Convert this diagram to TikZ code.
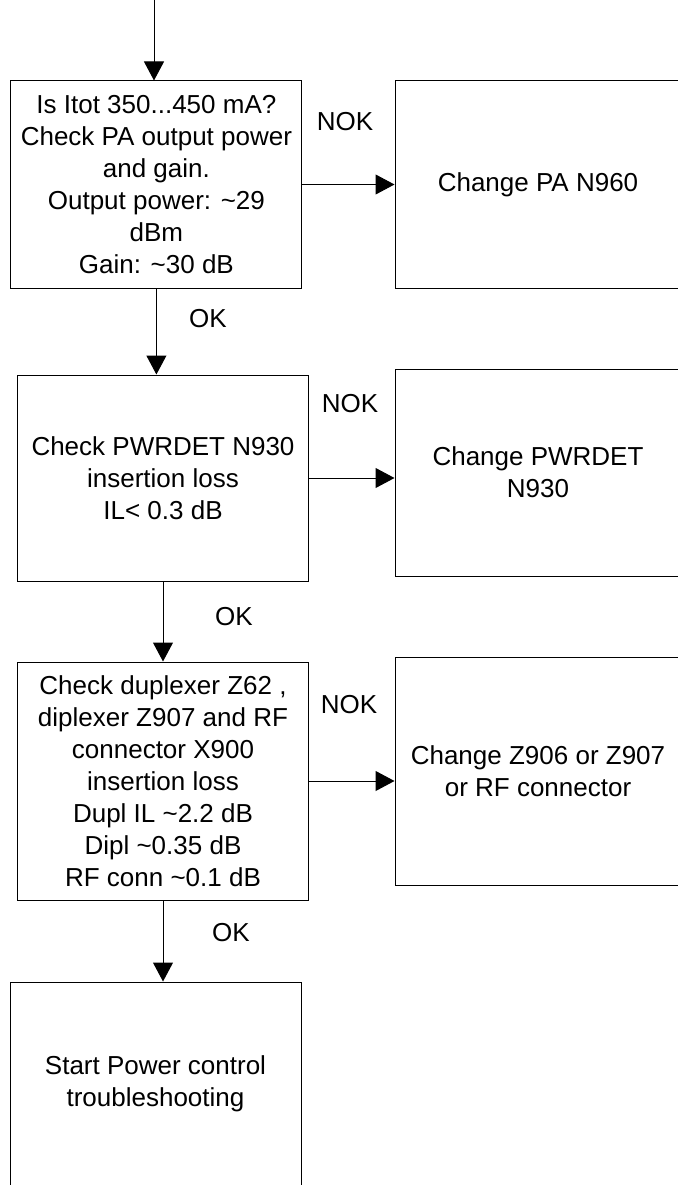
\documentclass[tikz,border=0pt]{standalone}
\usepackage{fontspec}
\setmainfont{Liberation Sans}
\usetikzlibrary{arrows.meta}

\begin{document}
\begin{tikzpicture}[x=1pt, y=-1pt, >={Triangle[length=19pt,width=20pt]},
  font=\fontsize{26}{32}\selectfont,
  box/.style={draw, line width=1pt, align=center, inner sep=0pt, minimum width=#1},
  box/.default=291pt]

\useasboundingbox (0,0) rectangle (677,1185);

\coordinate (in) at (154,0);

\node[box, minimum height=207pt] (chk1) at (156.4,184.5) {Is Itot 350...450 mA?\\Check PA output power\\and gain.\\Output power: \textasciitilde 29\\dBm\\Gain: \textasciitilde 30 dB};
\node[box, minimum height=206pt] (chk2) at (163,478) {Check PWRDET N930\\insertion loss\\IL< 0.3 dB};
\node[box, minimum height=238pt] (chk3) at (163,781) {Check duplexer Z62 ,\\diplexer Z907 and RF\\connector X900\\insertion loss\\Dupl IL \textasciitilde 2.2 dB\\Dipl \textasciitilde 0.35 dB\\RF conn \textasciitilde 0.1 dB};
\node[box, minimum height=204pt] (start) at (155.5,1084) {Start Power control\\troubleshooting};

\node[box=286pt, minimum height=207pt] (chg1) at (538,184.5) {Change PA N960};
\node[box=286pt, minimum height=207pt] (chg2) at (538,472.5) {Change PWRDET\\N930};
\node[box=286pt, minimum height=228pt] (chg3) at (538,771) {Change Z906 or Z907\\or RF connector};

\draw[->, line width=1pt] (in) -- (in |- chk1.north);
\draw[->, line width=1pt] (chk1.south) -- (chk1.south |- chk2.north);
\draw[->, line width=1pt] (chk2.south) -- (chk3.north);
\draw[->, line width=1pt] (chk3.south) -- (chk3.south |- start.north);

\draw[->, line width=1pt] (chk1.east) -- (chg1.west);
\draw[->, line width=1pt] (chk2.east) -- (chk2.east -| chg2.west);
\draw[->, line width=1pt] (chk3.east) -- (chk3.east -| chg3.west);

\node (ok1) at (208,319) {OK};
\node (ok2) at (234,617) {OK};
\node (ok3) at (231,933) {OK};
\node (nok1) at (345,122) {NOK};
\node (nok2) at (350,404) {NOK};
\node (nok3) at (349,705) {NOK};

\end{tikzpicture}
\end{document}
